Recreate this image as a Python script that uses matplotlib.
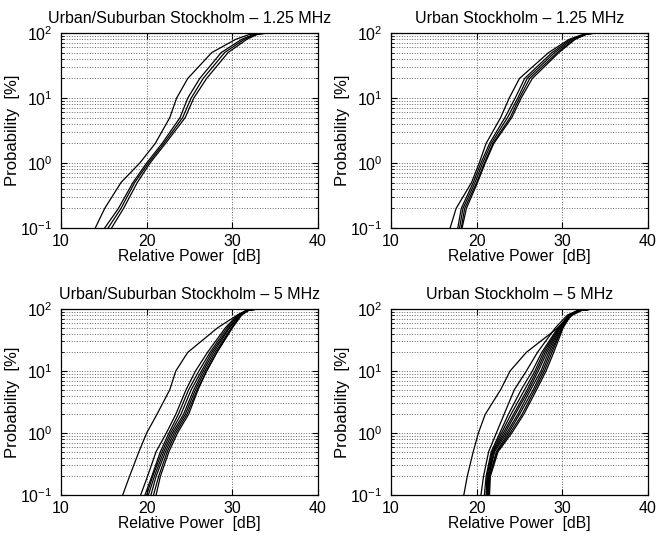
import matplotlib
matplotlib.use("Agg")
import matplotlib.pyplot as plt
from matplotlib.ticker import LogLocator, NullFormatter, FixedLocator

plt.rcParams['font.family'] = ['Liberation Sans', 'DejaVu Sans']
plt.rcParams['mathtext.fontset'] = 'custom'
plt.rcParams['mathtext.rm'] = 'Liberation Sans'
plt.rcParams['mathtext.it'] = 'Liberation Sans:italic'

# ---------------- data ----------------
titles = ["Urban/Suburban Stockholm – 1.25 MHz",
          "Urban Stockholm – 1.25 MHz",
          "Urban/Suburban Stockholm – 5 MHz",
          "Urban Stockholm – 5 MHz"]

# probability levels [%] (last duplicate marks the flat end at 100 %)
prob_levels = [0.1, 0.2, 0.5, 1, 2, 5, 10, 20, 50, 80, 95, 100, 100]

# relative power [dB] of each curve at prob_levels
tl_curves = [
    [14.0, 15.1, 17.0, 19.2, 21.0, 22.7, 23.5, 24.8, 27.6, 30.4, 32.0, 33.4, 40],
    [15.1, 16.7, 18.4, 20.0, 21.8, 23.9, 24.8, 26.2, 28.7, 31.1, 32.5, 33.8, 40],
    [15.5, 17.0, 18.6, 20.2, 22.0, 24.2, 25.2, 26.6, 29.1, 31.4, 32.7, 34.0, 40],
    [15.9, 17.3, 18.9, 20.4, 22.2, 24.5, 25.5, 27.0, 29.5, 31.7, 32.9, 34.2, 40],
]
tr_curves = [
    [16.9, 17.6, 19.4, 20.3, 21.1, 22.8, 23.8, 25.0, 28.4, 30.8, 32.4, 33.5, 40],
    [17.8, 18.2, 19.6, 20.5, 21.5, 23.3, 24.5, 25.6, 28.8, 31.0, 32.5, 33.6, 40],
    [18.0, 18.4, 19.8, 20.7, 21.7, 23.6, 24.8, 25.9, 29.1, 31.2, 32.6, 33.7, 40],
    [18.2, 18.6, 20.0, 20.9, 21.9, 23.9, 25.0, 26.2, 29.4, 31.4, 32.7, 33.8, 40],
    [18.3, 18.8, 20.1, 21.0, 22.0, 24.1, 25.2, 26.5, 29.6, 31.5, 32.8, 33.9, 40],
]
bl_curves = [
    [17.2, 18.0, 19.1, 20.0, 21.2, 22.7, 23.4, 24.8, 28.3, 30.6, 31.8, 32.7, 40],
    [19.3, 20.1, 21.1, 22.3, 23.4, 24.6, 25.7, 27.1, 29.2, 30.6, 31.6, 32.8, 40],
    [19.8, 20.6, 21.6, 22.6, 23.7, 24.9, 26.1, 27.4, 29.4, 30.7, 31.7, 32.8, 40],
    [20.0, 20.7, 21.8, 22.8, 24.0, 25.2, 26.4, 27.6, 29.6, 30.8, 31.7, 32.9, 40],
    [20.2, 20.9, 22.0, 23.0, 24.3, 25.5, 26.6, 27.8, 29.7, 30.9, 31.8, 32.9, 40],
    [20.5, 21.1, 22.2, 23.2, 24.5, 25.7, 26.8, 28.0, 29.9, 31.0, 31.8, 33.0, 40],
    [20.8, 21.4, 22.4, 23.4, 24.7, 25.9, 27.0, 28.2, 30.0, 31.0, 31.9, 33.0, 40],
    [21.1, 21.6, 22.6, 23.6, 24.9, 26.0, 27.0, 28.2, 30.0, 31.1, 31.9, 33.0, 40],
]
br_curves = [
    [18.5, 18.9, 19.6, 20.2, 21.0, 22.8, 23.9, 25.8, 29.5, 31.2, 32.3, 33.5, 40],
    [20.5, 20.8, 21.4, 22.3, 23.2, 24.4, 25.8, 27.1, 29.2, 30.6, 31.8, 33.5, 40],
    [20.9, 21.1, 21.7, 22.7, 23.7, 25.2, 26.5, 27.6, 29.5, 30.8, 31.9, 33.5, 40],
    [21.1, 21.2, 21.8, 22.9, 24.0, 25.6, 26.8, 27.8, 29.6, 30.8, 31.9, 33.5, 40],
    [21.2, 21.3, 21.9, 23.1, 24.3, 25.9, 27.0, 28.0, 29.7, 30.8, 31.9, 33.5, 40],
    [21.2, 21.4, 22.0, 23.3, 24.5, 26.1, 27.2, 28.2, 29.8, 30.9, 31.9, 33.5, 40],
    [21.3, 21.4, 22.1, 23.5, 24.8, 26.3, 27.5, 28.4, 29.9, 30.9, 32.0, 33.6, 40],
    [21.4, 21.5, 22.3, 23.7, 25.0, 26.6, 27.7, 28.6, 30.0, 31.0, 32.0, 33.6, 40],
    [21.4, 21.5, 22.4, 23.9, 25.3, 26.8, 27.9, 28.8, 30.0, 31.0, 32.0, 33.6, 40],
    [21.5, 21.6, 22.5, 24.1, 25.5, 27.0, 28.1, 29.0, 30.1, 31.0, 32.0, 33.6, 40],
]
panels = [tl_curves, tr_curves, bl_curves, br_curves]

x_ticks = [10, 20, 30, 40]
x_label = "Relative Power  [dB]"
y_label = "Probability  [%]"

# ---------------- figure ----------------
fig = plt.figure(figsize=(6.65, 5.36), dpi=100)
rects = [
    [61/665, 1-228/536, 257/665, 195/536],
    [391/665, 1-228/536, 257/665, 195/536],
    [61/665, 1-495/536, 257/665, 186/536],
    [391/665, 1-495/536, 257/665, 186/536],
]

for rect, curves, title in zip(rects, panels, titles):
    ax = fig.add_axes(rect)
    ax.set_yscale('log')
    for c in curves:
        ax.plot(c, prob_levels, color='black', lw=0.9, clip_on=True)
    ax.set_xlim(10, 40)
    ax.set_ylim(0.1, 100)
    ax.xaxis.set_major_locator(FixedLocator(x_ticks))
    ax.yaxis.set_major_locator(LogLocator(base=10, numticks=10))
    ax.yaxis.set_minor_locator(LogLocator(base=10, subs=range(2, 10), numticks=20))
    ax.yaxis.set_minor_formatter(NullFormatter())
    ax.grid(True, which='major', axis='both', linestyle=':', color='0.4', lw=0.7)
    ax.grid(True, which='minor', axis='y', linestyle=':', color='0.4', lw=0.7)
    ax.tick_params(which='both', direction='in', top=True, right=True,
                   labelsize=11.5, length=4)
    ax.tick_params(which='minor', length=2)
    ax.tick_params(axis='x', pad=4)
    ax.tick_params(axis='y', pad=6)
    for s in ax.spines.values():
        s.set_linewidth(0.9)
    ax.set_title(title, fontsize=11.5, pad=7)
    ax.set_xlabel(x_label, fontsize=11.3, labelpad=0)
    ax.set_ylabel(y_label, fontsize=12)
    ax.yaxis.set_label_coords(-0.16, 0.5)

fig.savefig("out.png", dpi=100)
